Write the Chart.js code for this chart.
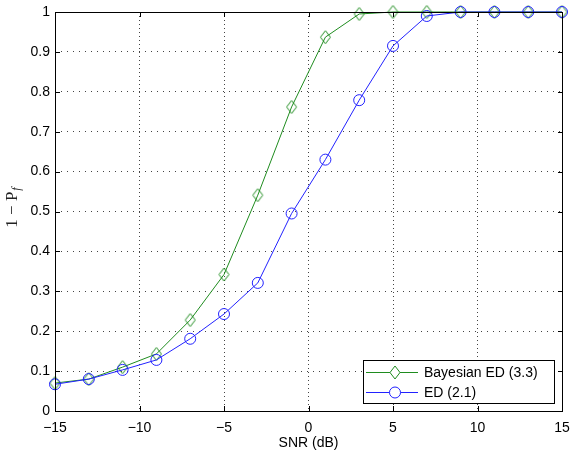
<!DOCTYPE html>
<html>
<head>
<meta charset="utf-8">
<script src="https://cdn.jsdelivr.net/npm/chart.js@4"></script>
<style>
  html, body { margin: 0; padding: 0; background: #fff; }
  #wrap { width: 570px; height: 457px; }
</style>
</head>
<body>
<div id="wrap"><canvas id="c" width="570" height="457"></canvas></div>
<script>
// ---- data ----
const snr = [-15, -13, -11, -9, -7, -5, -3, -1, 1, 3, 5, 7, 9, 11, 13, 15];
const bayesED = [0.070, 0.080, 0.110, 0.143, 0.228, 0.342, 0.541, 0.762, 0.937, 0.995, 1.0, 1.0, 1.0, 1.0, 1.0, 1.0];
const ed = [0.067, 0.080, 0.103, 0.128, 0.181, 0.243, 0.321, 0.495, 0.630, 0.779, 0.915, 0.990, 1.0, 1.0, 1.0, 1.0];
const seriesLabels = ['Bayesian ED (3.3)', 'ED (2.1)'];
const xTicks = [-15, -10, -5, 0, 5, 10, 15];
const yTicks = [0, 0.1, 0.2, 0.3, 0.4, 0.5, 0.6, 0.7, 0.8, 0.9, 1];
const xTitle = 'SNR (dB)';
const yTitleMain = '1 \u2212 P';
const yTitleSub = 'f';

const GREEN = '#1f8c1f';
const BLUE = '#2222ff';
const FONT = '"Liberation Sans", Arial, Helvetica, sans-serif';
const SERIF = '"Liberation Serif", "Times New Roman", serif';

const toPts = (xs, ys) => xs.map((x, i) => ({ x: x, y: ys[i] }));
const fmt = v => (v < 0 ? '\u2212' + Math.abs(v) : String(v));

function diamondPath(ctx, cx, cy, hw, hh) {
  ctx.beginPath();
  ctx.moveTo(cx, cy - hh); ctx.lineTo(cx + hw, cy); ctx.lineTo(cx, cy + hh); ctx.lineTo(cx - hw, cy); ctx.closePath();
}
function makeDiamond(color) {
  const c = document.createElement('canvas');
  c.width = 13; c.height = 15;
  const g = c.getContext('2d');
  g.strokeStyle = color; g.lineWidth = 1;
  diamondPath(g, 6.5, 7.5, 5, 6.5);
  g.stroke();
  return c;
}

const frame = {
  id: 'matlabFrame',
  afterDraw(chart) {
    const ctx = chart.ctx;
    const xs = chart.scales.x, ys = chart.scales.y;
    ctx.save();
    ctx.setLineDash([]);
    ctx.fillStyle = '#000';
    const L0 = Math.round(xs.getPixelForValue(-15));
    const R0 = Math.round(xs.getPixelForValue(15));
    const T0 = Math.round(ys.getPixelForValue(1));
    const B0 = Math.round(ys.getPixelForValue(0));
    // box
    ctx.fillRect(L0, T0, R0 - L0 + 1, 1);
    ctx.fillRect(L0, B0, R0 - L0 + 1, 1);
    ctx.fillRect(L0, T0, 1, B0 - T0 + 1);
    ctx.fillRect(R0, T0, 1, B0 - T0 + 1);
    // inward ticks
    const L = 5;
    xTicks.forEach(v => {
      const px = Math.round(xs.getPixelForValue(v));
      ctx.fillRect(px, B0 - L, 1, L);
      ctx.fillRect(px, T0, 1, L);
    });
    yTicks.forEach(v => {
      const py = Math.round(ys.getPixelForValue(v));
      ctx.fillRect(L0, py, L, 1);
      ctx.fillRect(R0 - L + 1, py, L, 1);
    });

    // y title with subscript
    ctx.save();
    ctx.translate(13, 208);
    ctx.rotate(-Math.PI / 2);
    ctx.fillStyle = '#222';
    ctx.textBaseline = 'middle';
    ctx.font = '17px ' + SERIF;
    const w1 = ctx.measureText(yTitleMain).width;
    ctx.font = 'italic 12px ' + SERIF;
    const w2 = ctx.measureText(yTitleSub).width;
    const start = -(w1 + w2) / 2;
    ctx.font = '17px ' + SERIF;
    ctx.textAlign = 'left';
    ctx.fillText(yTitleMain, start, 0);
    ctx.font = 'italic 12px ' + SERIF;
    ctx.fillText(yTitleSub, start + w1 + 1, 4);
    ctx.restore();

    // legend
    const bx = 363, by = 360, bw = 191, bh = 43;
    ctx.fillStyle = '#fff';
    ctx.fillRect(bx, by, bw, bh);
    ctx.strokeStyle = '#000';
    ctx.lineWidth = 1;
    ctx.strokeRect(bx + 0.5, by + 0.5, bw, bh);
    const rows = [372, 392];
    chart.data.datasets.forEach((ds, i) => {
      const y = rows[i];
      ctx.strokeStyle = ds.borderColor;
      ctx.lineWidth = 1;
      ctx.beginPath();
      ctx.moveTo(366, y + 0.5); ctx.lineTo(418, y + 0.5);
      ctx.stroke();
      if (i === 0) {
        diamondPath(ctx, 395, y + 0.5, 5, 6.5);
      } else {
        ctx.beginPath();
        ctx.arc(395, y + 0.5, 5.5, 0, Math.PI * 2);
      }
      ctx.fillStyle = '#fff';
      ctx.fill();
      ctx.stroke();
      ctx.fillStyle = '#000';
      ctx.font = '14px ' + FONT;
      ctx.textAlign = 'left';
      ctx.textBaseline = 'middle';
      ctx.fillText(ds.label, 424, y + 1);
    });
    ctx.restore();
  }
};

new Chart(document.getElementById('c'), {
  type: 'line',
  data: {
    datasets: [
      {
        label: seriesLabels[0],
        data: toPts(snr, bayesED),
        borderColor: GREEN,
        backgroundColor: 'rgba(0,0,0,0)',
        borderWidth: 1,
        pointStyle: makeDiamond(GREEN),
        pointRadius: 6,
        tension: 0,
        order: 1
      },
      {
        label: seriesLabels[1],
        data: toPts(snr, ed),
        borderColor: BLUE,
        backgroundColor: 'rgba(0,0,0,0)',
        borderWidth: 1,
        pointStyle: 'circle',
        pointRadius: 5.5,
        pointBorderWidth: 1,
        pointBackgroundColor: 'rgba(0,0,0,0)',
        tension: 0,
        order: 0
      }
    ]
  },
  options: {
    responsive: false,
    animation: false,
    devicePixelRatio: 1,
    clip: false,
    layout: { padding: { top: 12, right: 8, left: 0, bottom: 0 } },
    plugins: { legend: { display: false }, tooltip: { enabled: false } },
    scales: {
      x: {
        type: 'linear',
        min: -15, max: 15,
        afterBuildTicks: s => { s.ticks = xTicks.map(v => ({ value: v })); },
        afterFit: s => { s.height = 46; s.paddingLeft = 0; s.paddingRight = 0; },
        ticks: {
          callback: v => fmt(v),
          color: '#000',
          font: { family: FONT, size: 14 },
          padding: 9,
          maxRotation: 0
        },
        grid: { color: '#444', lineWidth: 1, drawTicks: false, tickLength: 0 },
        border: { display: false, dash: [1, 3] },
        title: { display: true, text: xTitle, color: '#000', font: { family: FONT, size: 14 }, padding: { top: 0, bottom: 5 } }
      },
      y: {
        type: 'linear',
        min: 0, max: 1,
        afterBuildTicks: s => { s.ticks = yTicks.map(v => ({ value: v })); },
        afterFit: s => { s.width = 55; s.paddingTop = 0; s.paddingBottom = 0; },
        ticks: {
          callback: v => String(v),
          color: '#000',
          font: { family: FONT, size: 14 },
          padding: 5
        },
        grid: { color: '#444', lineWidth: 1, drawTicks: false, tickLength: 0 },
        border: { display: false, dash: [1, 5] }
      }
    }
  },
  plugins: [frame]
});
</script>
</body>
</html>
